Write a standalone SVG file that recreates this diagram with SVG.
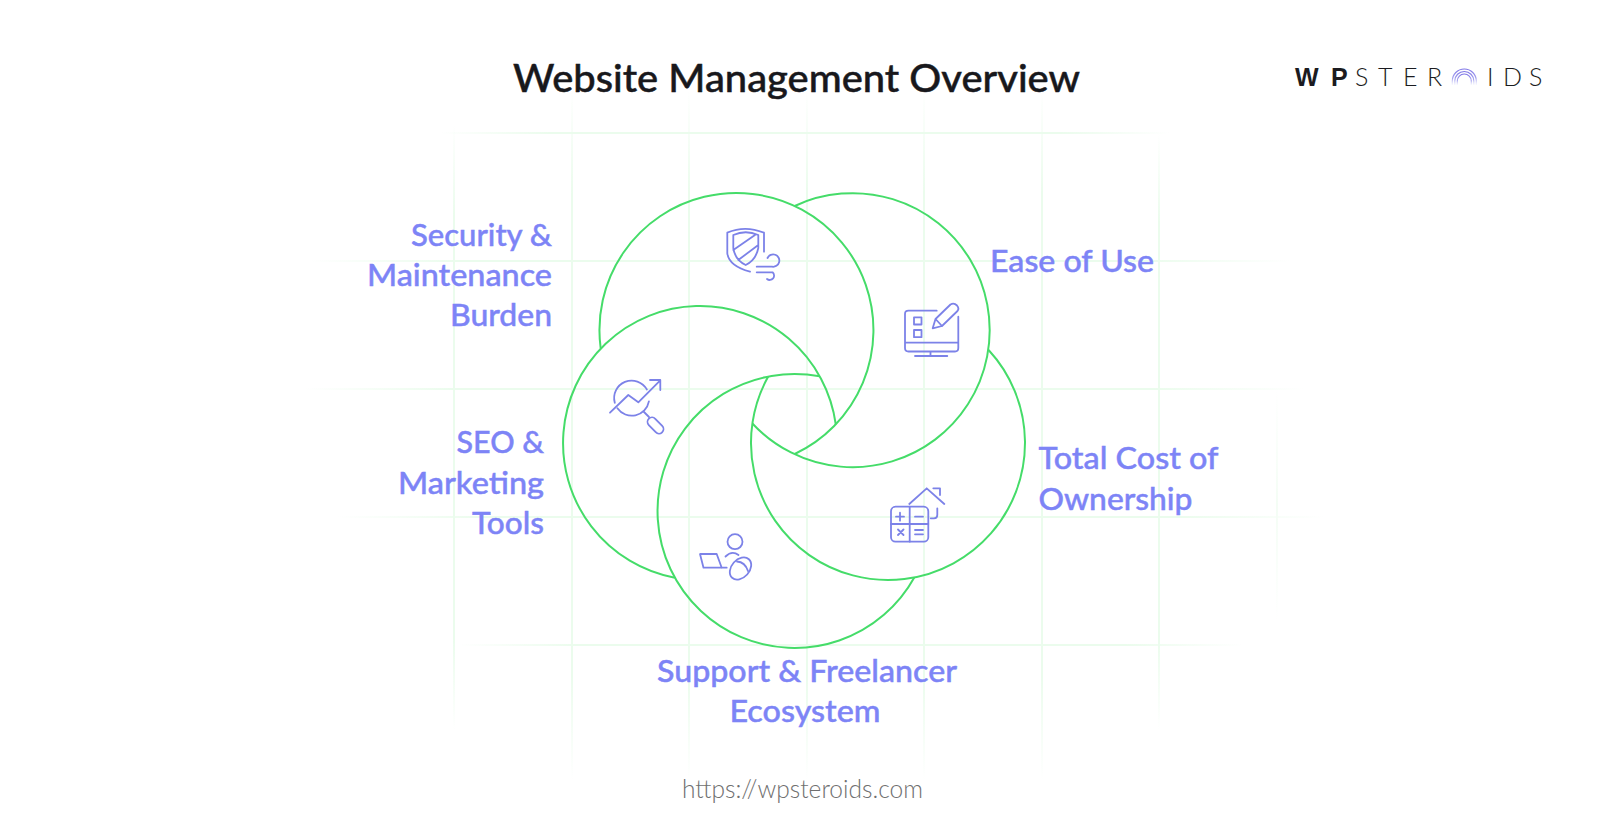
<svg xmlns="http://www.w3.org/2000/svg" width="1612" height="818" viewBox="0 0 1612 818">
<style>
.ring{fill:none;stroke:#45dc69;stroke-width:2}
.ic{fill:none;stroke:#7c82e8;stroke-width:1.8;stroke-linecap:round;stroke-linejoin:round}
.lb{font-family:"Lato","Liberation Sans",sans-serif;font-weight:500;font-size:31px;fill:#7d84f6;stroke:#7d84f6;stroke-width:.45}
.logo{font-size:25px;fill:#1b1b20}
</style>
<defs>
<linearGradient id="gh"><stop offset="0" stop-color="#ebfced" stop-opacity="0"/><stop offset=".15" stop-color="#ebfced"/><stop offset=".85" stop-color="#ebfced"/><stop offset="1" stop-color="#ebfced" stop-opacity="0"/></linearGradient>
<linearGradient id="gv" x1="0" y1="0" x2="0" y2="1"><stop offset="0" stop-color="#ebfced" stop-opacity="0"/><stop offset=".15" stop-color="#ebfced"/><stop offset=".85" stop-color="#ebfced"/><stop offset="1" stop-color="#ebfced" stop-opacity="0"/></linearGradient>
<linearGradient id="gt" x1="0" y1="0" x2="0" y2="1"><stop offset="0" stop-color="#f4fdf5" stop-opacity="0"/><stop offset=".5" stop-color="#f4fdf5"/><stop offset="1" stop-color="#f4fdf5" stop-opacity="0"/></linearGradient>
<linearGradient id="ga" x1="0" y1="0" x2="0" y2="1"><stop offset="0" stop-color="#7f76e6"/><stop offset=".6" stop-color="#a9a6f0"/><stop offset="1" stop-color="#d8d8fa" stop-opacity=".2"/></linearGradient>
</defs>
<rect width="1612" height="818" fill="#fff"/>
<g id="grid">
<rect x="440" y="132" width="730" height="2" fill="url(#gh)"/>
<rect x="310" y="260" width="980" height="2" fill="url(#gh)"/>
<rect x="304" y="388" width="1000" height="2" fill="url(#gh)"/>
<rect x="338" y="516" width="986" height="2" fill="url(#gh)"/>
<rect x="459" y="644" width="784" height="2" fill="url(#gh)"/>
<rect x="453" y="125" width="2" height="605" fill="url(#gv)"/>
<rect x="571" y="90" width="2" height="690" fill="url(#gv)"/>
<rect x="688" y="90" width="2" height="690" fill="url(#gv)"/>
<rect x="806" y="90" width="2" height="690" fill="url(#gv)"/>
<rect x="923" y="90" width="2" height="690" fill="url(#gv)"/>
<rect x="1041" y="90" width="2" height="690" fill="url(#gv)"/>
<rect x="1158" y="133" width="2" height="597" fill="url(#gv)"/>
<rect x="1276" y="390" width="2" height="230" fill="url(#gt)"/>
</g>
<text id="title" x="513" y="92" textLength="567" lengthAdjust="spacingAndGlyphs" style="font-family:'Lato','Liberation Sans',sans-serif;font-weight:500;font-size:39px;fill:#18181c;stroke:#18181c;stroke-width:.5">Website Management Overview</text>
<g id="logo">
<text class="logo" y="86" style="font-family:'Liberation Sans',sans-serif;font-weight:700"><tspan x="1295 1331">WP</tspan></text>
<text class="logo" y="86" style="font-family:'Lato','Liberation Sans',sans-serif;font-weight:300"><tspan x="1355 1378 1403 1427">STER</tspan><tspan x="1487 1503 1529">IDS</tspan></text>
<g fill="none" stroke="url(#ga)" stroke-width="1.2">
<path d="M1452.300 85V81a12 12 0 0 1 24 0V85"/><path d="M1454.800 85V81a9.500 9.500 0 0 1 19 0V85"/><path d="M1457.300 85V81a7 7 0 0 1 14 0V85"/>
</g>
</g>
<g id="connectors">
<path class="ring" d="M600.700 348.500A137 137 0 1 1 794.750 454"/>
<path class="ring" d="M794.750 206A137 137 0 1 1 752.400 423.500"/>
<path class="ring" d="M988.600 350A137 137 0 1 1 768.200 376.500"/>
<path class="ring" d="M914.300 577.500A137 137 0 1 1 819.700 376.300"/>
<path class="ring" d="M674.800 577.700A137 137 0 1 1 835.800 424.500"/>
</g>
<g id="node-security">
<path class="ic" d="M764 251.700V232.700Q745 225 727.300 232.700V253.300Q729 266 750 271.700"/>
<path class="ic" d="M733.300 235Q745.700 229.500 758.300 235V248Q756 260 745.700 265Q735 260 733.300 248ZM733.300 250L755 235M738.300 260L758.300 245"/>
<path class="ic" d="M756.700 266.700H772A6.200 6.200 0 1 0 767.500 258M756.700 272.300H772.500A3.600 3.600 0 1 1 767 279"/>
<text class="lb" text-anchor="end"><tspan x="552" y="245.500" textLength="141" lengthAdjust="spacingAndGlyphs">Security &amp;</tspan><tspan x="552" y="285.500" textLength="185" lengthAdjust="spacingAndGlyphs">Maintenance</tspan><tspan x="552" y="325.500" textLength="102" lengthAdjust="spacingAndGlyphs">Burden</tspan></text>
</g>
<g id="node-ease">
<path class="ic" d="M936.700 310.700H908.500Q905 310.700 905 314V348Q905 351.500 908.500 351.500H955Q958.300 351.500 958.300 348V316.700M905 342.700H958.300M930.500 351.500V356M915 356H947.300"/>
<rect class="ic" x="914" y="317.300" width="7.500" height="7.200"/><rect class="ic" x="914" y="330" width="7.500" height="7.200"/>
<path class="ic" d="M932.700 328.300L935.500 319L950.500 304.500Q954 302.500 957 305.500Q959.500 308.500 957.500 311L942 326ZM935.500 319L942 326"/>
<text class="lb" x="990" y="271.500" textLength="164" lengthAdjust="spacingAndGlyphs">Ease of Use</text>
</g>
<g id="node-seo">
<path class="ic" d="M646.900 389.500A17.500 17.500 0 0 0 614.800 402.800M617.400 408.300A17.500 17.500 0 0 0 648.900 401.300"/>
<path class="ic" d="M610 412.700L628.300 395L638.300 402.300L660 380.700M650 380H660.300V390M643.500 411.500L649 417"/>
<rect class="ic" x="646" y="421" width="19" height="9" rx="4.500" transform="rotate(46 655.500 425.500)"/>
<text class="lb" text-anchor="end"><tspan x="544" y="453" textLength="87.500" lengthAdjust="spacingAndGlyphs">SEO &amp;</tspan><tspan x="544" y="493.500" textLength="146" lengthAdjust="spacingAndGlyphs">Marketing</tspan><tspan x="544" y="533.500" textLength="72" lengthAdjust="spacingAndGlyphs">Tools</tspan></text>
</g>
<g id="node-cost">
<rect class="ic" x="891" y="506.700" width="37.300" height="35" rx="4.500"/>
<path class="ic" d="M909.700 506.700V541.700M891 524H928.300M896 516.700H904M900 512.700V520.700M915 516.700H923M898 529.500L903.500 535M903.500 529.500L898 535M915 530H923M915 534.300H923"/>
<path class="ic" d="M909.300 504L926.700 488.300L944.300 504M933.300 488.300H940V495M937.300 508.300V515Q937.300 518.300 934 518.300H930.700"/>
<text class="lb"><tspan x="1038.500" y="469" textLength="180" lengthAdjust="spacingAndGlyphs">Total Cost of</tspan><tspan x="1038.500" y="509.500" textLength="154" lengthAdjust="spacingAndGlyphs">Ownership</tspan></text>
</g>
<g id="node-support">
<circle class="ic" cx="735" cy="541.700" r="7.500"/>
<path class="ic" d="M725.500 556.500Q732 550 738.500 555"/>
<path class="ic" d="M726.700 567.700H703.500L700 554H716.700L721.700 567.700"/>
<ellipse class="ic" cx="740.500" cy="568.500" rx="12.500" ry="9" transform="rotate(-48 740.500 568.500)"/>
<path class="ic" d="M737 561.500Q745 562 748 571"/>
<text class="lb" text-anchor="middle"><tspan x="807" y="681.500" textLength="300" lengthAdjust="spacingAndGlyphs">Support &amp; Freelancer</tspan><tspan x="805" y="721.500" textLength="151" lengthAdjust="spacingAndGlyphs">Ecosystem</tspan></text>
</g>
<text id="url" x="682" y="798" textLength="241" lengthAdjust="spacingAndGlyphs" style="font-family:'Lato','Liberation Sans',sans-serif;font-weight:300;font-size:25px;fill:#6f6f6f">https://wpsteroids.com</text>
</svg>
